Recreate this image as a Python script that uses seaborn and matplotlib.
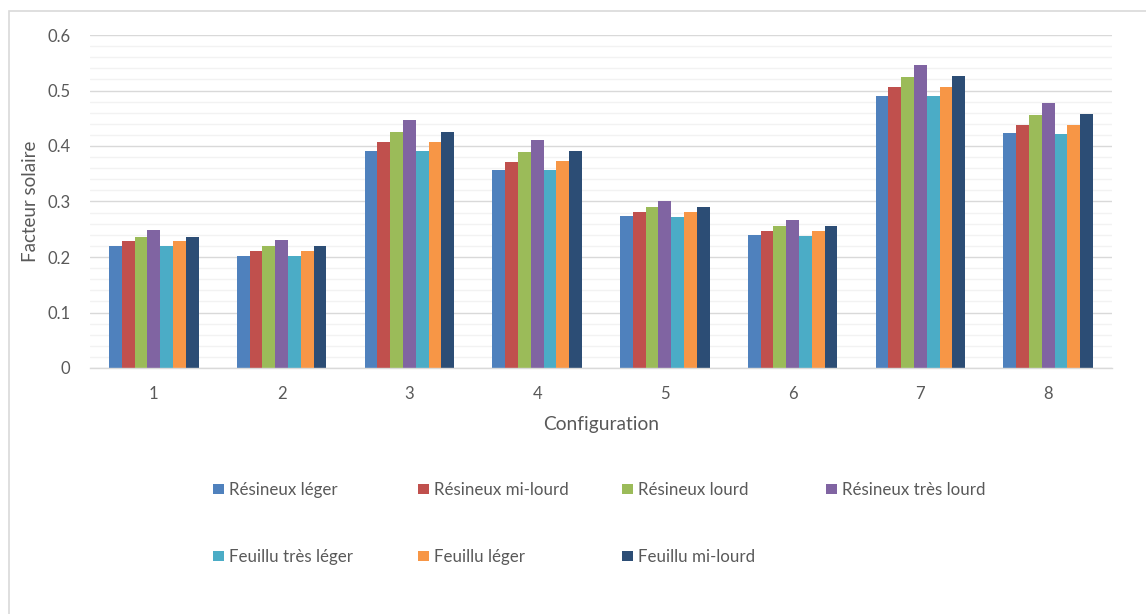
import numpy as np
import pandas as pd
import matplotlib
matplotlib.use("Agg")
import matplotlib.pyplot as plt
from matplotlib.patches import Rectangle, Patch
from matplotlib.ticker import MultipleLocator
import seaborn as sns

configurations = ["1", "2", "3", "4", "5", "6", "7", "8"]
series_names = [
    "Résineux léger",
    "Résineux mi-lourd",
    "Résineux lourd",
    "Résineux très lourd",
    "Feuillu très léger",
    "Feuillu léger",
    "Feuillu mi-lourd",
]
resineux_leger = [0.220, 0.202, 0.391, 0.357, 0.274, 0.240, 0.490, 0.423]
resineux_mi_lourd = [0.228, 0.211, 0.408, 0.372, 0.281, 0.247, 0.507, 0.438]
resineux_lourd = [0.236, 0.220, 0.426, 0.390, 0.290, 0.256, 0.525, 0.456]
resineux_tres_lourd = [0.249, 0.231, 0.447, 0.411, 0.301, 0.267, 0.546, 0.478]
feuillu_tres_leger = [0.220, 0.202, 0.391, 0.357, 0.272, 0.238, 0.490, 0.422]
feuillu_leger = [0.228, 0.211, 0.408, 0.373, 0.281, 0.247, 0.507, 0.438]
feuillu_mi_lourd = [0.236, 0.220, 0.426, 0.391, 0.290, 0.256, 0.527, 0.458]

colors = ["#4F81BD", "#C0504D", "#9BBB59", "#8064A2", "#4BACC6", "#F79646", "#2C4D75"]

all_series = [resineux_leger, resineux_mi_lourd, resineux_lourd, resineux_tres_lourd,
              feuillu_tres_leger, feuillu_leger, feuillu_mi_lourd]

rows = []
for name, vals in zip(series_names, all_series):
    for cfg, v in zip(configurations, vals):
        rows.append({"Configuration": cfg, "Série": name, "Facteur solaire": v})
df = pd.DataFrame(rows)

sns.set_theme(style="white")
plt.rcParams["font.family"] = ["Lato", "DejaVu Sans"]
text_color = "#595959"

fig = plt.figure(figsize=(11.46, 6.14), dpi=100)
ax = fig.add_axes([90 / 1146, 1 - 368 / 614, (1112 - 90) / 1146, (368 - 35) / 614])

sns.barplot(data=df, x="Configuration", y="Facteur solaire", hue="Série",
            order=configurations, hue_order=series_names, palette=colors,
            width=0.7, saturation=1, linewidth=0, legend=False, ax=ax)

ax.set_ylim(0, 0.6)
ax.set_xlim(-0.5, len(configurations) - 0.5)
ax.yaxis.set_major_locator(MultipleLocator(0.1))
ax.yaxis.set_minor_locator(MultipleLocator(0.02))
ax.set_yticks(np.arange(0, 0.61, 0.1))
ax.set_yticklabels(["0", "0.1", "0.2", "0.3", "0.4", "0.5", "0.6"])
ax.grid(which="major", axis="y", color="#D9D9D9", linewidth=1.0)
ax.grid(which="minor", axis="y", color="#F2F2F2", linewidth=1.0)
ax.set_axisbelow(True)

for side in ["top", "right", "left"]:
    ax.spines[side].set_visible(False)
ax.spines["bottom"].set_color("#D9D9D9")
ax.spines["bottom"].set_linewidth(1.0)

ax.tick_params(axis="both", which="both", length=0, colors=text_color, labelsize=12)
ax.tick_params(axis="y", pad=14)
ax.tick_params(axis="x", pad=13)
ax.set_xlabel("Configuration", fontsize=13.8, color=text_color, labelpad=10)
ax.set_ylabel("Facteur solaire", fontsize=13.5, color=text_color, labelpad=6)

# legend laid out on a regular grid: 4 columns, filled row by row
ncols = 4
col_left_px = [213, 418, 622, 826]
for j in range(ncols):
    idx = [i for i in range(len(series_names)) if i % ncols == j]
    handles = [Patch(facecolor=colors[i], edgecolor="none") for i in idx]
    labels = [series_names[i] for i in idx]
    fig.legend(handles, labels, loc="upper left",
               bbox_to_anchor=(col_left_px[j] / 1146, 1 - 482 / 614), ncol=1,
               frameon=False, fontsize=12.2, labelcolor=text_color,
               handlelength=0.62, handleheight=0.55, handletextpad=0.35,
               labelspacing=3.0, borderaxespad=0, borderpad=0)

# light outer frame (left and top edges)
fig.patches.append(Rectangle((9 / 1146, -0.05), 1.1, 1 - 11 / 614 + 0.05,
                             transform=fig.transFigure, fill=False,
                             edgecolor="#D9D9D9", linewidth=1.2))

fig.savefig("out.png", dpi=100)
